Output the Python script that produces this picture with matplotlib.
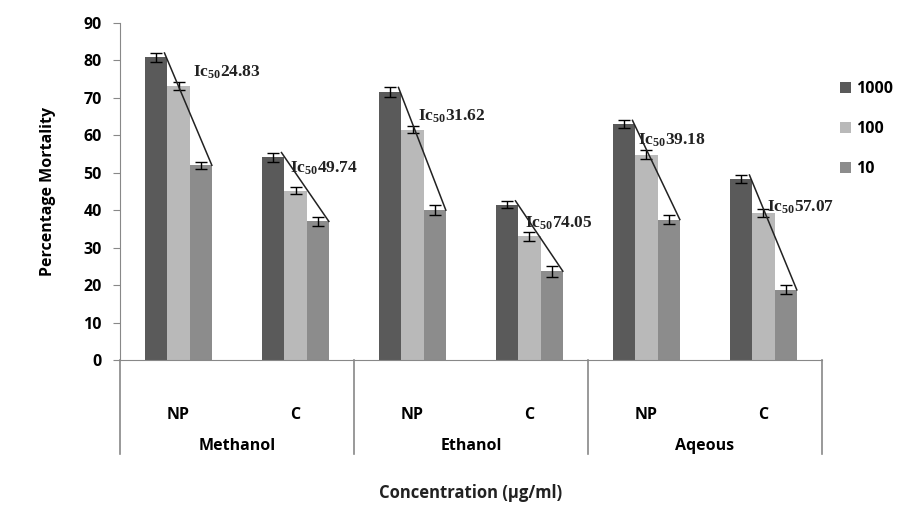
import numpy as np
import matplotlib.pyplot as plt
import matplotlib.transforms as mtransforms

plt.rcParams['font.family'] = ['Open Sans', 'DejaVu Sans']
plt.rcParams['mathtext.fontset'] = 'custom'
plt.rcParams['mathtext.rm'] = 'Liberation Serif:bold'
plt.rcParams['mathtext.it'] = 'Liberation Serif:bold'
plt.rcParams['mathtext.bf'] = 'Liberation Serif:bold'

# Дані
solvents = ['Methanol', 'Ethanol', 'Aqeous']
samples = ['NP', 'C', 'NP', 'C', 'NP', 'C']
doses = ['1000', '100', '10']
mort_1000 = [80.8, 54.2, 71.5, 41.5, 63.0, 48.3]
mort_100 = [73.2, 45.2, 61.5, 33.0, 54.8, 39.3]
mort_10 = [52.0, 37.0, 40.0, 23.7, 37.5, 18.7]
err_1000 = [1.2, 1.2, 1.3, 1.0, 1.0, 1.1]
err_100 = [1.0, 1.0, 1.0, 1.3, 1.2, 1.0]
err_10 = [1.0, 1.2, 1.3, 1.5, 1.2, 1.2]
ic50 = ['24.83', '49.74', '31.62', '74.05', '39.18', '57.07']

# Зсуви підписів IC50
label_dx = [0.12, -0.05, 0.05, -0.04, -0.07, 0.03]
label_dy = [3.7, 6.0, 3.6, 3.6, 4.0, 1.6]

colors = ['#5a5a5a', '#b9b9b9', '#8c8c8c']
width = 0.19

fig = plt.figure(figsize=(9.12, 5.12), dpi=100)
ax = fig.add_axes([0.1316, 0.297, 0.7697, 0.658])

x = np.arange(len(samples))
series = [mort_1000, mort_100, mort_10]
errs = [err_1000, err_100, err_10]
for i, (vals, e) in enumerate(zip(series, errs)):
    ax.bar(x + (i - 1) * width, vals, width, color=colors[i], label=doses[i], zorder=2)
    ax.errorbar(x + (i - 1) * width, vals, yerr=e, fmt='none', ecolor='black',
                elinewidth=1, capsize=4, capthick=1, zorder=3)

# Лінії тренду та підписи IC50
for k in range(len(samples)):
    ax.plot([x[k] - width + 0.07, x[k] + 1.5 * width],
            [mort_1000[k] + err_1000[k], mort_10[k]], color='#222222', lw=1.1, zorder=4)
    ax.text(x[k] + label_dx[k], mort_100[k] + label_dy[k],
            r'Ic$_{50}$' + ic50[k],
            family='Liberation Serif', fontweight='bold', fontsize=12.5,
            va='center', ha='left', color='#222222', zorder=5)

ax.set_xlim(-0.5, 5.5)
ax.set_ylim(0, 90)
ax.set_yticks(np.arange(0, 91, 10))
ax.set_xticks([])
for lab in ax.get_yticklabels():
    lab.set_fontweight('bold')
    lab.set_fontsize(11.5)
ax.tick_params(axis='y', direction='out', length=5, color='#888888', pad=8)
ax.spines['top'].set_visible(False)
ax.spines['right'].set_visible(False)
ax.spines['left'].set_color('#888888')
ax.spines['bottom'].set_color('#888888')
ax.set_ylabel('Percentage Mortality', fontsize=11.5, fontweight='bold', labelpad=20)

# Багаторівнева вісь X
trans = mtransforms.blended_transform_factory(ax.transData, ax.transAxes)
for xv in [-0.5, 1.5, 3.5, 5.5]:
    ax.plot([xv, xv], [0, -0.28], transform=trans, color='#888888', lw=1.2, clip_on=False)
for k, s in enumerate(samples):
    ax.text(x[k], -0.163, s, transform=trans, ha='center', va='center',
            fontsize=11.5, fontweight='bold')
for g, name in enumerate(solvents):
    ax.text(2 * g + 0.5, -0.255, name, transform=trans, ha='center', va='center',
            fontsize=11.5, fontweight='bold')
ax.text(0.5, -0.395, 'Concentration (µg/ml)', transform=ax.transAxes, ha='center',
        va='center', fontsize=12, fontweight='bold', color='#222222')

leg = ax.legend(loc='upper left', bbox_to_anchor=(1.005, 0.87), frameon=False,
                handlelength=0.7, handleheight=0.7, handletextpad=0.3,
                labelspacing=1.5, prop={'size': 11.5, 'weight': 'bold'})

fig.savefig('out.png', dpi=100)
